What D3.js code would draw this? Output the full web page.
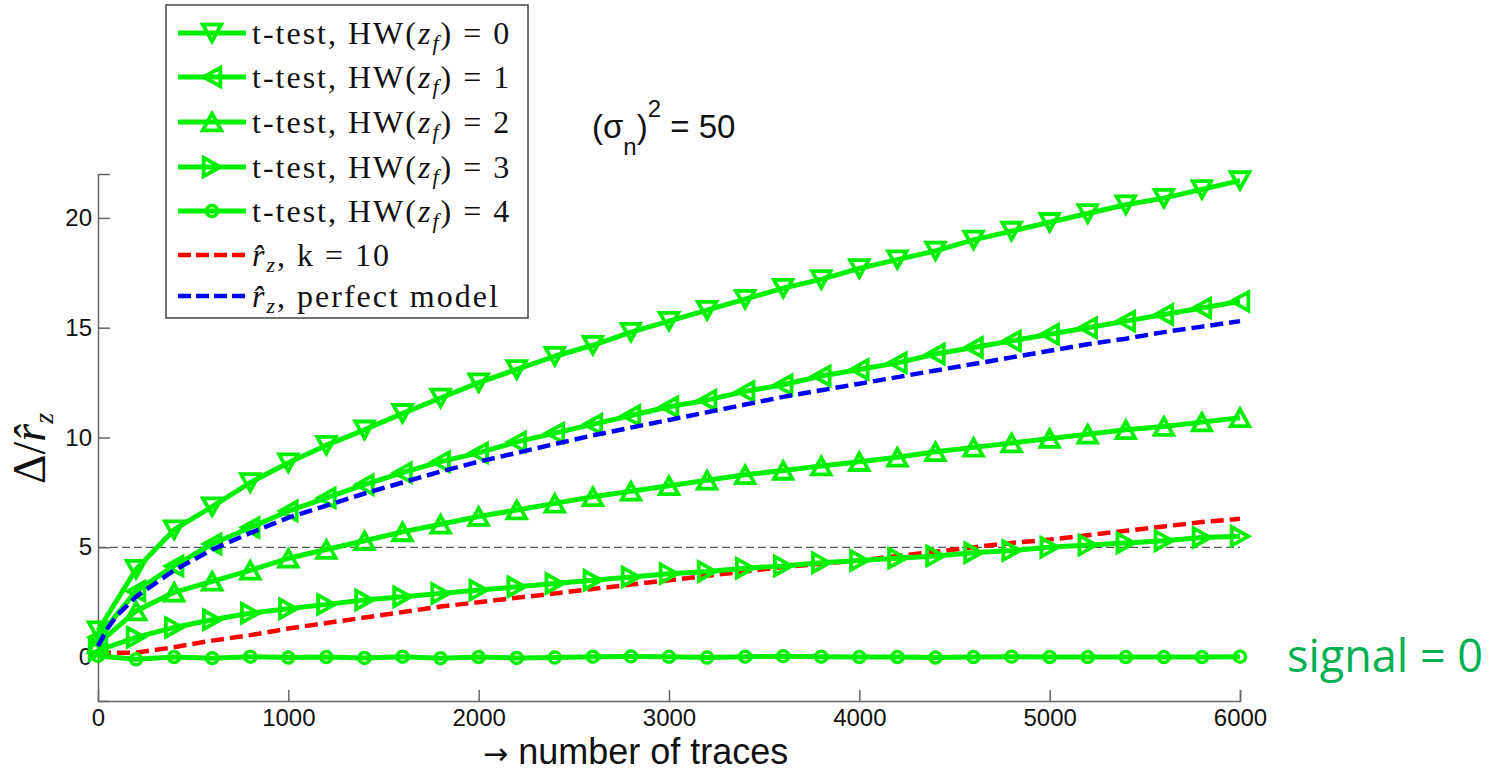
<!DOCTYPE html>
<html lang="en">
<head>
    <meta charset="UTF-8">
    <title>t-test vs r_z</title>
    <style>
        body { margin: 0; padding: 0; background: #ffffff; }
        svg { display: block; }
        .tick-label { font-family: "Liberation Sans", Arial, sans-serif; font-size: 24px; fill: #111; }
        .legend-text { font-family: "Liberation Serif", "DejaVu Serif", serif; font-size: 32px; fill: #111; letter-spacing: 2px; }
    </style>
</head>
<body>
    <svg id="chart" width="1502" height="772"></svg>

    <script src="https://d3js.org/d3.v7.min.js"></script>
    <script>
        // x positions (number of traces), one marker every 200
        var traces = d3.range(0, 6001, 200);

        // t-test curves
        var hw0 = [1.2, 4.0, 5.8, 6.85, 7.95, 8.85, 9.65, 10.35, 11.1, 11.8, 12.5, 13.1, 13.7, 14.2, 14.8, 15.3,
                   15.8, 16.3, 16.8, 17.2, 17.7, 18.1, 18.5, 19.0, 19.4, 19.8, 20.2, 20.6, 20.9, 21.3, 21.7];
        var hw1 = [0.9, 3.0, 4.15, 5.15, 5.9, 6.65, 7.25, 7.85, 8.4, 8.9, 9.3, 9.8, 10.2, 10.6, 11.0, 11.4,
                   11.7, 12.1, 12.4, 12.8, 13.1, 13.4, 13.8, 14.1, 14.4, 14.7, 15.0, 15.3, 15.6, 15.9, 16.2];
        var hw2 = [0.6, 2.1, 2.95, 3.45, 3.95, 4.5, 4.9, 5.3, 5.7, 6.05, 6.4, 6.7, 7.0, 7.3, 7.55, 7.8,
                   8.05, 8.3, 8.5, 8.7, 8.9, 9.1, 9.35, 9.55, 9.75, 9.95, 10.15, 10.35, 10.5, 10.7, 10.9];
        var hw3 = [0.3, 0.9, 1.35, 1.7, 2.0, 2.2, 2.4, 2.6, 2.75, 2.9, 3.05, 3.2, 3.35, 3.5, 3.65, 3.8,
                   3.9, 4.05, 4.15, 4.3, 4.4, 4.5, 4.6, 4.75, 4.85, 5.0, 5.1, 5.2, 5.3, 5.45, 5.5];
        var hw4 = [0.05, -0.1, 0.0, -0.05, 0.02, -0.02, 0.0, -0.04, 0.02, -0.05, 0.0, -0.04, -0.02, 0.02, 0.03, 0.01,
                   -0.02, 0.02, 0.04, 0.02, 0.0, 0.0, -0.02, 0.0, 0.02, 0.0, 0.0, 0.0, 0.0, 0.0, 0.02];

        // dashed model curves (no markers)
        var modelTraces = [0, 50, 100].concat(d3.range(200, 6001, 200));
        var rzK10 = [0.2, 0.2, 0.2, 0.2, 0.45, 0.75, 1.0, 1.3, 1.55, 1.8, 2.05, 2.3, 2.5, 2.7, 2.9, 3.1, 3.3, 3.5,
                     3.7, 3.9, 4.1, 4.25, 4.4, 4.6, 4.8, 5.0, 5.2, 5.35, 5.55, 5.75, 5.95, 6.15, 6.3];
        var rzPerfect = [0.5, 1.3, 1.9, 2.75, 3.95, 4.9, 5.65, 6.35, 6.9, 7.45, 7.95, 8.45, 8.9, 9.3, 9.7, 10.1,
                         10.45, 10.8, 11.15, 11.5, 11.85, 12.15, 12.45, 12.75, 13.05, 13.35, 13.65, 13.95,
                         14.25, 14.5, 14.8, 15.05, 15.3];

        var xTicks = [0, 1000, 2000, 3000, 4000, 5000, 6000];
        var yTicks = [0, 5, 10, 15, 20];
        var threshold = 5;

        var green = '#00f000';

        var svg = d3.select('#chart');
        svg.append('rect').attr('width', 1502).attr('height', 772).attr('fill', '#fff');

        var x = d3.scaleLinear().domain([0, 6000]).range([98, 1240]);
        var y = d3.scaleLinear().domain([-2, 22]).range([701, 174]);

        // threshold line
        svg.append('line')
            .attr('x1', x(0)).attr('x2', x(6000))
            .attr('y1', y(threshold)).attr('y2', y(threshold))
            .attr('stroke', '#555').attr('stroke-width', 1.2)
            .attr('stroke-dasharray', '8,4');

        // axes (ticks pointing inward, no box)
        var xAxis = svg.append('g')
            .attr('transform', 'translate(0,' + y(-2) + ')')
            .call(d3.axisBottom(x).tickValues(xTicks).tickSize(-11).tickPadding(6).tickFormat(d3.format('d')));
        var yAxis = svg.append('g')
            .attr('transform', 'translate(' + x(0) + ',0)')
            .call(d3.axisLeft(y).tickValues(yTicks).tickSize(-12).tickPadding(8));
        [xAxis, yAxis].forEach(function(g) {
            g.select('.domain').attr('stroke', '#666').attr('stroke-width', 1.5);
            g.selectAll('.tick line').attr('stroke', '#666').attr('stroke-width', 1.5);
            g.selectAll('.tick text').attr('class', 'tick-label').attr('fill', '#111');
        });
        xAxis.selectAll('.tick text').attr('dy', '0.8em');
        yAxis.selectAll('.tick text').attr('x', -6);
        xAxis.selectAll('.tick').filter(function(d) { return d === 0; }).select('line').remove();

        // marker shapes
        function triPath(dir, s) {
            var h = s * 0.9;
            if (dir === 'down') return 'M' + (-s/2) + ',' + (-h/2) + 'L' + (s/2) + ',' + (-h/2) + 'L0,' + (h/2) + 'Z';
            if (dir === 'up') return 'M' + (-s/2) + ',' + (h/2) + 'L' + (s/2) + ',' + (h/2) + 'L0,' + (-h/2) + 'Z';
            if (dir === 'left') return 'M' + (h/2) + ',' + (-s/2) + 'L' + (h/2) + ',' + (s/2) + 'L' + (-h/2) + ',0Z';
            return 'M' + (-h/2) + ',' + (-s/2) + 'L' + (-h/2) + ',' + (s/2) + 'L' + (h/2) + ',0Z';
        }
        function drawMarker(g, shape, cx, cy) {
            if (shape === 'circle') {
                g.append('circle').attr('cx', cx).attr('cy', cy).attr('r', 5.5)
                    .attr('fill', 'none').attr('stroke', green).attr('stroke-width', 3.5);
            } else {
                g.append('path').attr('d', triPath(shape, 18.5))
                    .attr('transform', 'translate(' + cx + ',' + cy + ')')
                    .attr('fill', 'none').attr('stroke', green).attr('stroke-width', 3.8)
                    .attr('stroke-linejoin', 'miter');
            }
        }

        var line = d3.line().x(function(d) { return x(d[0]); }).y(function(d) { return y(d[1]); });

        var ttest = [
            { vals: hw0, shape: 'down' },
            { vals: hw1, shape: 'left' },
            { vals: hw2, shape: 'up' },
            { vals: hw3, shape: 'right' },
            { vals: hw4, shape: 'circle' }
        ];

        // dashed curves
        svg.append('path')
            .datum(modelTraces.map(function(t, i) { return [t, rzK10[i]]; }))
            .attr('d', line).attr('fill', 'none')
            .attr('stroke', '#ff0000').attr('stroke-width', 4.5).attr('stroke-dasharray', '13,6');

        ttest.forEach(function(s) {
            var pts = traces.map(function(t, i) { return [t, s.vals[i]]; });
            var g = svg.append('g');
            g.append('path').datum(pts).attr('d', line).attr('fill', 'none')
                .attr('stroke', green).attr('stroke-width', 5).attr('stroke-linejoin', 'round');
            pts.forEach(function(p) { drawMarker(g, s.shape, x(p[0]), y(p[1])); });
        });

        svg.append('path')
            .datum(modelTraces.map(function(t, i) { return [t, rzPerfect[i]]; }))
            .attr('d', line).attr('fill', 'none')
            .attr('stroke', '#0000ff').attr('stroke-width', 4.5).attr('stroke-dasharray', '13,6');

        // legend
        var legend = svg.append('g');
        legend.append('rect')
            .attr('x', 166).attr('y', 5).attr('width', 362).attr('height', 313)
            .attr('fill', '#fff').attr('stroke', '#444').attr('stroke-width', 1.5);

        var legendRows = [
            { kind: 'ttest', shape: 'down', hw: '0', yy: 33 },
            { kind: 'ttest', shape: 'left', hw: '1', yy: 77 },
            { kind: 'ttest', shape: 'up', hw: '2', yy: 122 },
            { kind: 'ttest', shape: 'right', hw: '3', yy: 167 },
            { kind: 'ttest', shape: 'circle', hw: '4', yy: 211 },
            { kind: 'rz', color: '#ff0000', label: ', k\u2005=\u200510', yy: 255 },
            { kind: 'rz', color: '#0000ff', label: ', perfect model', yy: 296 }
        ];
        legendRows.forEach(function(r) {
            var g = legend.append('g');
            if (r.kind === 'ttest') {
                g.append('line').attr('x1', 178).attr('x2', 246).attr('y1', r.yy).attr('y2', r.yy)
                    .attr('stroke', green).attr('stroke-width', 5);
                drawMarker(g, r.shape, 212, r.yy);
                var t = g.append('text').attr('class', 'legend-text').attr('x', 252).attr('y', r.yy + 11);
                t.append('tspan').text('t-test, HW(');
                t.append('tspan').attr('font-style', 'italic').text('z');
                t.append('tspan').attr('font-style', 'italic').attr('font-size', 22).attr('dy', 6).text('f');
                t.append('tspan').attr('dy', -6).text(')\u2005=\u2005' + r.hw);
            } else {
                g.append('line').attr('x1', 178).attr('x2', 246).attr('y1', r.yy).attr('y2', r.yy)
                    .attr('stroke', r.color).attr('stroke-width', 4.5).attr('stroke-dasharray', '13,5');
                var t2 = g.append('text').attr('class', 'legend-text').attr('x', 252).attr('y', r.yy + 11);
                t2.append('tspan').attr('font-style', 'italic').text('r\u0302');
                t2.append('tspan').attr('font-style', 'italic').attr('font-size', 22).attr('dy', 6).text('z');
                t2.append('tspan').attr('dy', -6).text(r.label);
            }
        });

        // title (sigma_n)^2 = 50
        var title = svg.append('text')
            .attr('x', 592).attr('y', 138)
            .style('font-family', '"Liberation Sans", Arial, sans-serif')
            .style('font-size', '33px').attr('fill', '#111');
        title.append('tspan').text('(\u03c3');
        title.append('tspan').attr('dy', 17).style('font-size', '24px').text('n');
        title.append('tspan').attr('dy', -17).text(')');
        title.append('tspan').attr('dy', -21).style('font-size', '24px').text('2');
        title.append('tspan').attr('dy', 21).text(' = 50');

        // y-axis label
        var ylab = svg.append('text')
            .attr('transform', 'translate(45,484) rotate(-90)')
            .style('font-family', '"Liberation Serif", "DejaVu Serif", serif')
            .style('font-size', '46px').attr('fill', '#111');
        ylab.append('tspan').text('\u0394/');
        ylab.append('tspan').attr('font-style', 'italic').text('r\u0302');
        ylab.append('tspan').attr('font-style', 'italic').attr('font-size', 28).attr('dy', 8).text('z');

        // x-axis label
        var xlab = svg.append('text')
            .attr('x', 483).attr('y', 764)
            .style('font-family', '"Liberation Sans", Arial, sans-serif')
            .style('font-size', '36px').attr('fill', '#111');
        xlab.append('tspan').style('font-family', '"DejaVu Sans", sans-serif').style('font-size', '30px').text('\u2192');
        xlab.append('tspan').text(' number of traces');

        // annotation
        svg.append('text')
            .attr('x', 1287).attr('y', 672)
            .style('font-family', '"Open Sans", sans-serif')
            .style('font-size', '45px').attr('fill', '#00b050')
            .text('signal = 0');
    </script>
</body>
</html>
